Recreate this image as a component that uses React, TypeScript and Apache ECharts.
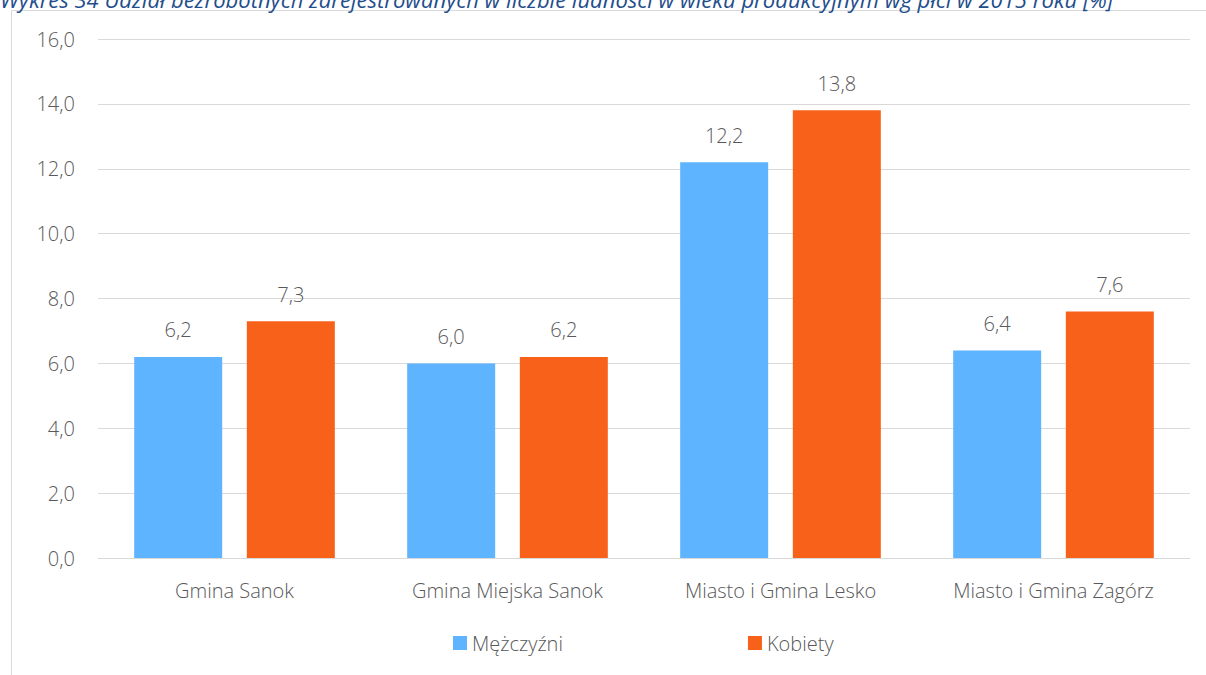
import React, { useEffect, useRef } from "react";
import * as echarts from "echarts";

const categories = ["Gmina Sanok", "Gmina Miejska Sanok", "Miasto i Gmina Lesko", "Miasto i Gmina Zagórz"];
const men = [6.2, 6.0, 12.2, 6.4];
const women = [7.3, 6.2, 13.8, 7.6];
const seriesNames = ["Mężczyźni", "Kobiety"];
const titleText = "Wykres 34 Udział bezrobotnych zarejestrowanych w liczbie ludności w wieku produkcyjnym wg płci w 2015 roku [%]";

const fmt = (v: number) => v.toFixed(1).replace(".", ",");
const FONT = "'Open Sans', sans-serif";
const GRAY = "#595959";
const FS = 20;

export default function App() {
  const ref = useRef<HTMLDivElement>(null);
  useEffect(() => {
    const chart = echarts.init(ref.current!, undefined, { renderer: "svg" });
    chart.setOption({
      animation: false,
      backgroundColor: "#ffffff",
      textStyle: { fontFamily: FONT },
      graphic: [
        {
          type: "rect",
          shape: { x: 11.5, y: 10.5, width: 1300, height: 800 },
          style: { fill: "none", stroke: "#d9d9d9", lineWidth: 1 },
          silent: true,
        },
        {
          type: "text",
          x: 0,
          y: 10,
          style: {
            text: titleText,
            fill: "#1F4E8C",
            font: "italic 22px 'Open Sans', sans-serif",
            textVerticalAlign: "bottom",
          },
        },
      ],
      legend: {
        bottom: 17,
        left: 448,
        itemWidth: 14,
        itemHeight: 14,
        itemGap: 185,
        icon: "rect",
        textStyle: { color: GRAY, fontSize: FS, fontFamily: FONT, fontWeight: 300, padding: [0, 0, 0, 0] },
        data: seriesNames,
      },
      grid: { left: 98, right: 16, top: 39, bottom: 117 },
      xAxis: {
        type: "category",
        data: categories,
        axisLine: { lineStyle: { color: "#d9d9d9" } },
        axisTick: { show: false },
        axisLabel: { color: GRAY, fontSize: FS, margin: 22, fontFamily: FONT, fontWeight: 300 },
      },
      yAxis: {
        type: "value",
        min: 0,
        max: 16,
        interval: 2,
        axisLine: { show: false },
        axisTick: { show: false },
        splitLine: { lineStyle: { color: "#d9d9d9" } },
        axisLabel: { color: GRAY, fontSize: FS, margin: 23, formatter: (v: number) => fmt(v), fontFamily: FONT, fontWeight: 300 },
      },
      series: [
        {
          name: seriesNames[0],
          type: "bar",
          data: men,
          barWidth: 88,
          barGap: "28%",
          itemStyle: { color: "#5EB4FE" },
          label: { show: true, position: "top", distance: 17, color: GRAY, fontSize: FS, fontFamily: FONT, fontWeight: 300, formatter: (p: any) => fmt(p.value) },
        },
        {
          name: seriesNames[1],
          type: "bar",
          data: women,
          barWidth: 88,
          itemStyle: { color: "#F8611A" },
          label: { show: true, position: "top", distance: 17, color: GRAY, fontSize: FS, fontFamily: FONT, fontWeight: 300, formatter: (p: any) => fmt(p.value) },
        },
      ],
    });
    return () => chart.dispose();
  }, []);
  return <div ref={ref} style={{ position: "absolute", left: 0, top: 0, width: 1206, height: 675 }} />;
}
